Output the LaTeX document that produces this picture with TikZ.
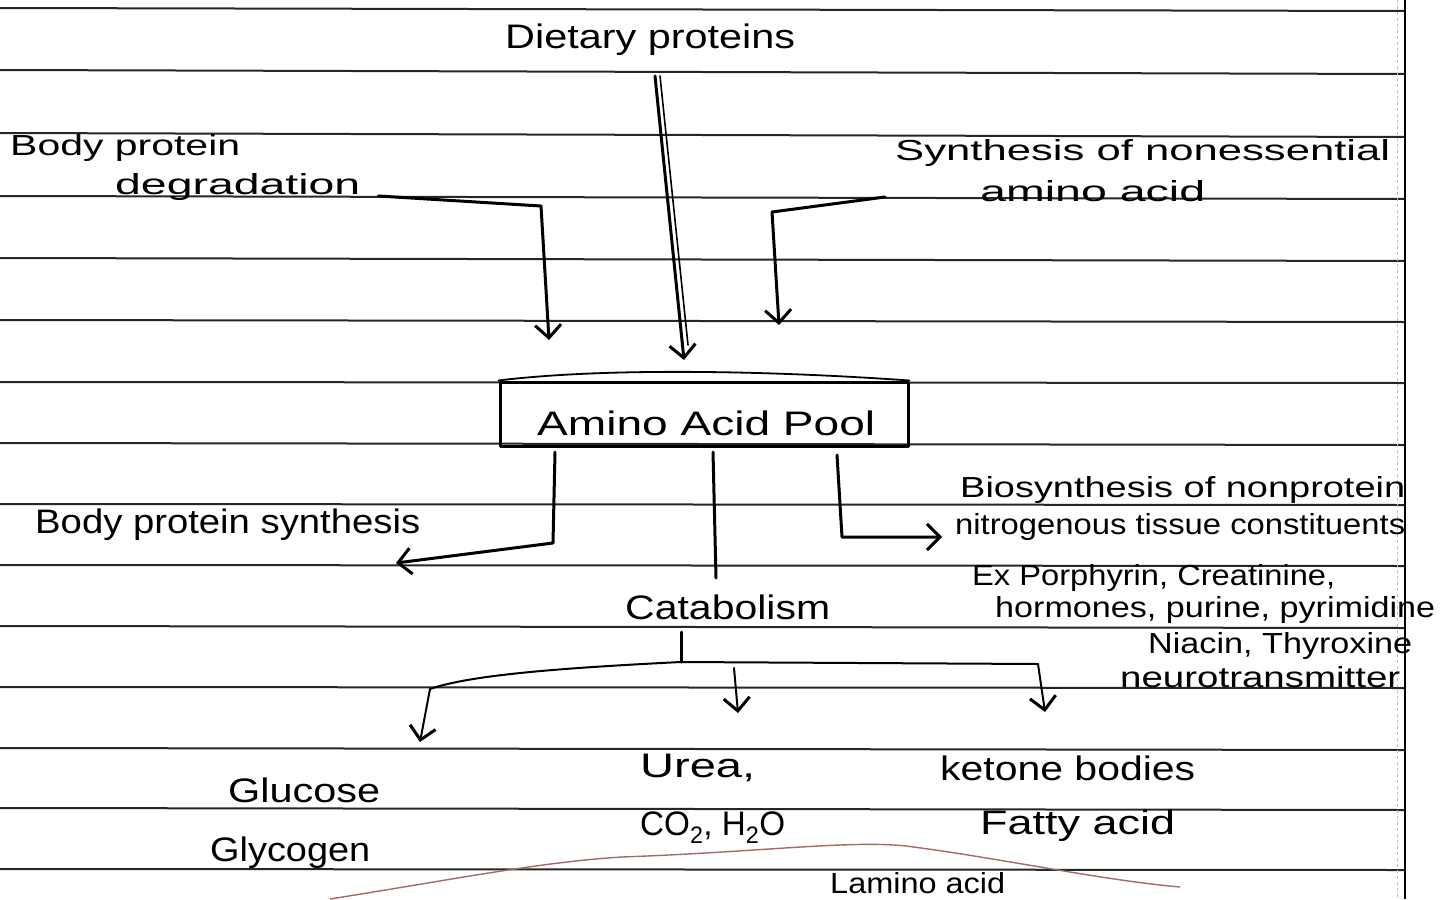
\documentclass[tikz,border=0pt]{standalone}
\usepackage{fontspec}
\usepackage{graphicx}
\setmainfont{Liberation Sans}
\usetikzlibrary{arrows.meta}
\newcommand{\fitw}[2]{\resizebox{#1pt}{\height}{#2}}
\begin{document}
\begin{tikzpicture}[x=1pt,y=-1pt,
  ink/.style={line width=3pt, line cap=round, line join=round},
  arr/.style={ink, -{Straight Barb[length=13pt,width=26pt,line width=3pt]}},
  ruleline/.style={line width=2pt, black!85},
  lbl/.style={inner sep=0pt, anchor=west, font=\fontsize{34}{38}\selectfont},
  sml/.style={lbl, font=\fontsize{29}{32}\selectfont},
  faint/.style={line width=1.4pt, draw=red!45!black!60}]
\useasboundingbox (0,0) rectangle (1447,899);
\fill[white] (0,0) rectangle (1447,899);
% ruled notebook lines
\foreach \yl/\yr in {8/11,70/74,133/137,196/199,258/261,320/322,382/383,443/445,504/505,565/566,626/628,687/688,748/750,808/810,869/870}
  \draw[ruleline] (0,\yl) -- (1405,\yr);
\draw[line width=2.4pt] (1405,0) -- (1405,899);
\draw[gray!50, line width=1pt, dashed] (1397,0) -- (1397,899);

% text nodes
\node[lbl] (diet) at (505,40) {\fitw{290}{Dietary proteins}};
\node[sml] (bp1) at (10,148) {\fitw{230}{Body protein}};
\node[sml] (deg) at (115,187) {\fitw{245}{degradation}};
\node[sml] (syn1) at (895,153) {\fitw{495}{Synthesis of nonessential}};
\node[sml] (syn2) at (980,191) {\fitw{225}{amino acid}};
\node[ink, draw, rectangle, minimum width=408pt, minimum height=64pt, inner sep=0pt] (pool) at (704,414) {};
\node[lbl] (pooltxt) at (537,423) {\fitw{338}{Amino Acid Pool}};
\node[lbl] (bps) at (35,525) {\fitw{385}{Body protein synthesis}};
\node[lbl] (cat) at (625,607) {\fitw{205}{Catabolism}};
\node[sml] (bio1) at (960,490) {\fitw{445}{Biosynthesis of nonprotein}};
\node[sml] (bio2) at (955,527) {\fitw{450}{nitrogenous tissue constituents}};
\node[sml] (ex1) at (972,578) {\fitw{363}{Ex Porphyrin, Creatinine,}};
\node[sml] (ex2) at (995,610) {\fitw{440}{hormones, purine, pyrimidine}};
\node[sml] (ex3) at (1148,646) {\fitw{264}{Niacin, Thyroxine}};
\node[sml] (ex4) at (1120,677) {\fitw{280}{neurotransmitter}};
\node[lbl] (glu) at (228,790) {\fitw{152}{Glucose}};
\node[lbl] (gly) at (210,853) {\fitw{160}{Glycogen}};
\node[lbl] (urea) at (640,768) {\fitw{115}{Urea,}};
\node[lbl] (co2) at (640,828) {\fitw{145}{CO\textsubscript{2}, H\textsubscript{2}O}};
\node[lbl] (ket) at (940,768) {\fitw{255}{ketone bodies}};
\node[lbl] (fat) at (980,826) {\fitw{195}{Fatty acid}};
\node[sml] (lam) at (830,883) {\fitw{175}{Lamino acid}};

% top wavy line on pool
\draw[ink, line width=1.8pt] (pool.north west) .. controls (600,368) and (760,370) .. (pool.north east);

% arrows into pool
\coordinate (b1) at (541,206);
\coordinate (p1) at (549,340);
\draw[arr] (deg.east) ++(18,9) -- (b1) -- (p1);
\coordinate (d0) at (655,76);
\coordinate (p2) at (684,360);
\draw[arr] (d0) -- (p2);
\draw[ink, line width=1.6pt] (660,76) -- (688,345);
\coordinate (s0) at (885,197);
\coordinate (b3) at (772,212);
\coordinate (p3) at (779,325);
\draw[arr] (s0) -- (b3) -- (p3);

% arrows out of pool
\coordinate (o1) at (555,452);
\coordinate (o1b) at (553,543);
\coordinate (t1) at (396,563);
\draw[arr] (o1) -- (o1b) -- (t1);
\coordinate (o2) at (713,452);
\coordinate (o2b) at (716,578);
\draw[ink] (o2) -- (o2b);
\coordinate (o3) at (837,455);
\coordinate (o3b) at (842,537);
\coordinate (t3) at (942,537);
\draw[arr] (o3) -- (o3b) -- (t3);

% catabolism branches
\coordinate (c0) at (681,632);
\coordinate (c1) at (681,662);
\coordinate (cl) at (430,689);
\coordinate (cle) at (420,742);
\coordinate (cr) at (1038,664);
\coordinate (cre) at (1045,712);
\draw[ink] (c0) -- (c1);
\draw[ink, line width=2pt] (c1) .. controls (560,668) and (470,675) .. (cl);
\draw[arr, line width=2pt] (cl) -- (cle);
\draw[ink, line width=2pt] (c1) -- (cr);
\draw[arr, line width=2pt] (cr) -- (cre);
\coordinate (m0) at (734,668);
\coordinate (m1) at (738,713);
\draw[arr, line width=2pt] (m0) -- (m1);

% faint red curves at the bottom
\draw[faint] (330,899) .. controls (450,880) and (540,862) .. (622,857);
\draw[faint] (622,857) .. controls (760,852) and (850,840) .. (906,846) .. controls (1000,858) and (1100,880) .. (1180,887);
\end{tikzpicture}
\end{document}
